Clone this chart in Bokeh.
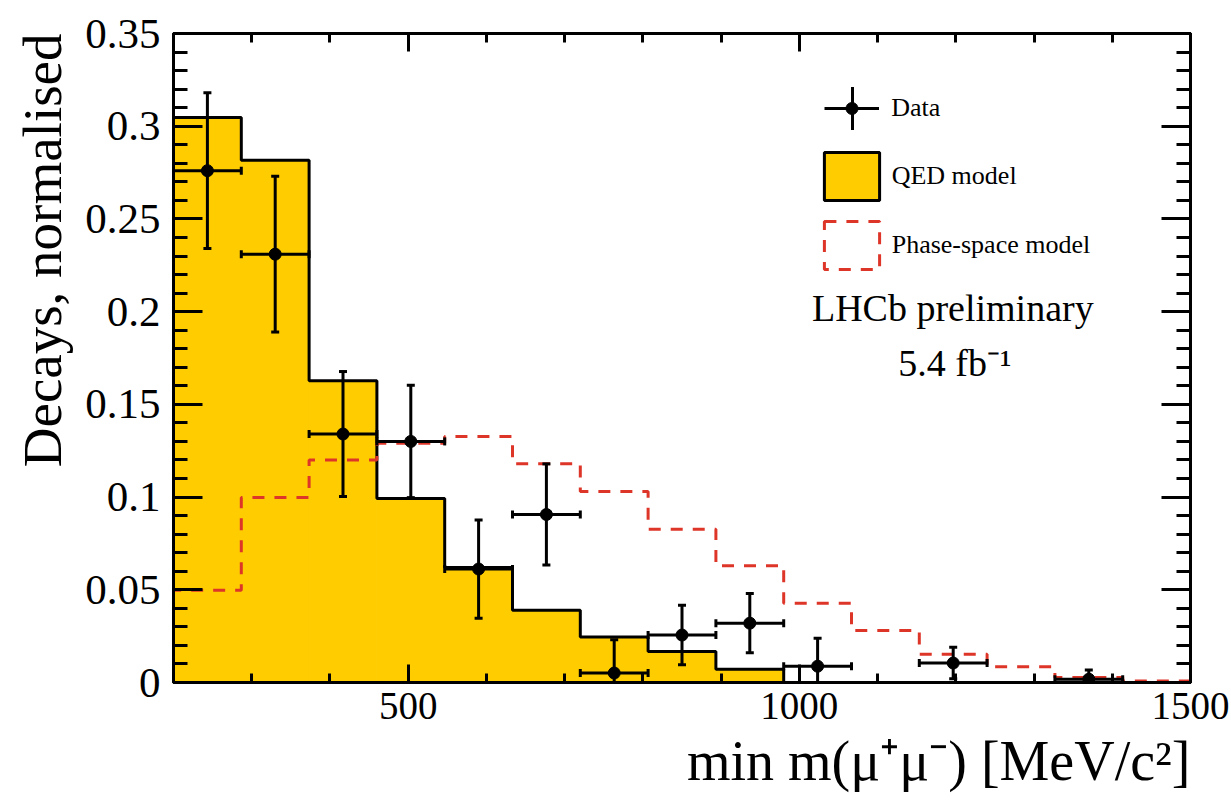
import numpy as np
from bokeh.plotting import figure
from bokeh.models import (Range1d, FixedTicker, LinearAxis, Whisker, TeeHead,
                          ColumnDataSource, Legend, LegendItem, Label, Title,
                          CustomJSTickFormatter)
from bokeh.embed import file_html
from bokeh.resources import INLINE

# ---------------- data ----------------
x_lo, x_hi, n_bins = 200.0, 1500.0, 15
bin_edges = np.linspace(x_lo, x_hi, n_bins + 1)

qed_model = [0.3047, 0.2817, 0.1627, 0.0992, 0.0620, 0.0390, 0.0245, 0.0167,
             0.0072, 0.0, 0.0, 0.0, 0.0, 0.0, 0.0]
phase_space_model = [0.0498, 0.0998, 0.1200, 0.1290, 0.1327, 0.1180, 0.1030,
                     0.0827, 0.0629, 0.0428, 0.0280, 0.0153, 0.0085, 0.0027,
                     0.0008]
data_bins = [0, 1, 2, 3, 4, 5, 6, 7, 8, 9, 11, 13]
data_values = [0.276, 0.231, 0.134, 0.130, 0.0612, 0.0906, 0.0051, 0.0256,
               0.032, 0.0088, 0.0105, 0.0018]
data_errors = [0.042, 0.042, 0.0337, 0.0303, 0.0265, 0.0273, 0.018, 0.016,
               0.016, 0.015, 0.0085, 0.005]

x_ticks = [500, 1000, 1500]
x_minor_ticks = list(range(200, 1501, 100))
y_ticks = [0, 0.05, 0.1, 0.15, 0.2, 0.25, 0.3, 0.35]
y_tick_labels = ["0", "0.05", "0.1", "0.15", "0.2", "0.25", "0.3", "0.35"]
y_minor_ticks = [round(i * 0.01, 2) for i in range(36)]

x_title = "min m(μ⁺μ⁻) [MeV/c²]"
y_title = "Decays, normalised"

FONT = "Liberation Serif"
YELLOW = "#FFCC00"
RED = "#DE3529"
NAN = float("nan")

# ---------------- figure ----------------
p = figure(width=1231, height=809, x_range=Range1d(x_lo, x_hi),
           y_range=Range1d(0, 0.35), output_backend="svg",
           toolbar_location=None, min_border_left=173, min_border_right=41,
           min_border_top=33, min_border_bottom=127)
p.xgrid.visible = False
p.ygrid.visible = False
p.outline_line_color = "black"
p.outline_line_width = 3
p.background_fill_color = "white"
p.border_fill_color = "white"

def style_axis(ax, vertical, labels=True, size="39px"):
    ax.axis_line_width = 3
    ax.axis_line_color = "black"
    ax.major_tick_line_width = 3
    ax.minor_tick_line_width = 3
    ax.major_tick_out = 0
    ax.minor_tick_out = 0
    if vertical:
        ax.major_tick_in = 29
        ax.minor_tick_in = 14
    else:
        ax.major_tick_in = 18
        ax.minor_tick_in = 9
    ax.major_label_text_font = FONT
    ax.major_label_text_font_size = size
    ax.major_label_text_color = "black"
    if not labels:
        ax.formatter = CustomJSTickFormatter(code="return ''")
        ax.major_label_standoff = 0

xt = FixedTicker(ticks=x_ticks, minor_ticks=x_minor_ticks)
yt = FixedTicker(ticks=y_ticks, minor_ticks=y_minor_ticks)
y_overrides = {t: s for t, s in zip(y_ticks, y_tick_labels)}

xa = p.xaxis[0]
xa.ticker = xt
style_axis(xa, False)
xa.major_label_standoff = 10

ya = p.yaxis[0]
ya.ticker = yt
ya.major_label_overrides = y_overrides
style_axis(ya, True, size="43px")
ya.major_label_standoff = 13

top_ax = LinearAxis(ticker=xt)
style_axis(top_ax, False, labels=False)
p.add_layout(top_ax, "above")
right_ax = LinearAxis(ticker=yt)
style_axis(right_ax, True, labels=False)
p.add_layout(right_ax, "right")

# axis titles, aligned to the axis ends as in the original
p.add_layout(Title(text=x_title, align="right", vertical_align="top",
                   text_font=FONT, text_font_size="56px",
                   text_font_style="normal", text_color="black",
                   standoff=16, offset=0), "below")
p.add_layout(Title(text=y_title, align="right", vertical_align="top",
                   text_font=FONT, text_font_size="55px",
                   text_font_style="normal", text_color="black",
                   standoff=16, offset=0), "left")

# ---------------- histograms ----------------
def step_outline(values):
    xs = [bin_edges[0]]
    ys = [0.0]
    for i, v in enumerate(values):
        xs += [bin_edges[i], bin_edges[i + 1]]
        ys += [v, v]
    xs.append(bin_edges[-1])
    ys.append(0.0)
    return xs, ys

p.quad(left=bin_edges[:-1], right=bin_edges[1:], bottom=0, top=qed_model,
       fill_color=YELLOW, line_color=YELLOW, line_width=1)
qx, qy = step_outline(qed_model)
p.line(qx, qy, line_color="black", line_width=3)
px_, py_ = step_outline(phase_space_model)
p.line(px_, py_, line_color=RED, line_width=3, line_dash="12 10")

# ---------------- data points ----------------
centers = 0.5 * (bin_edges[:-1] + bin_edges[1:])
half_w = 0.5 * (bin_edges[1] - bin_edges[0])
dx = np.array([centers[b] for b in data_bins])
dy = np.array(data_values)
de = np.array(data_errors)
src = ColumnDataSource(dict(x=dx, y=dy, yl=np.maximum(dy - de, 0.0), yu=dy + de,
                            xl=dx - half_w, xu=dx + half_w))
vw = Whisker(source=src, base="x", lower="yl", upper="yu", dimension="height",
             line_width=3, line_color="black", level="annotation",
             upper_head=TeeHead(size=8, line_width=3, line_color="black"),
             lower_head=TeeHead(size=8, line_width=3, line_color="black"))
hw = Whisker(source=src, base="y", lower="xl", upper="xu", dimension="width",
             line_width=3, line_color="black", level="annotation",
             upper_head=TeeHead(size=8, line_width=3, line_color="black"),
             lower_head=TeeHead(size=8, line_width=3, line_color="black"))
p.add_layout(vw)
p.add_layout(hw)
pts = p.scatter("x", "y", source=src, size=12, color="black")

# ---------------- legend (legend-only renderers hold no visible data) ----------------
leg_hline = p.segment(x0=[NAN], y0=[NAN], x1=[NAN], y1=[NAN],
                      line_color="black", line_width=3)
leg_cross = p.scatter(x=[NAN], y=[NAN], marker="cross", line_color="black",
                      line_width=3)
leg_qed = p.quad(left=[NAN], right=[NAN], top=[NAN], bottom=[NAN],
                 fill_color=YELLOW, line_color="black", line_width=3)
leg_ps = p.quad(left=[NAN], right=[NAN], top=[NAN], bottom=[NAN], fill_alpha=0,
                line_color=RED, line_width=3, line_dash="12 10")

def make_legend(items, gw, gh, loc, standoff=6, spacing=9):
    return Legend(items=items, location=loc, glyph_width=gw, glyph_height=gh,
                  label_height=gh, padding=0, margin=0, spacing=spacing,
                  label_standoff=standoff, border_line_color=None,
                  background_fill_alpha=0, label_text_font=FONT,
                  label_text_font_size="26px", label_text_color="black")

leg_b = make_legend([LegendItem(label="", renderers=[leg_cross])], 108, 108, (624.8, 520.4))
leg_a = make_legend([LegendItem(label="Data", renderers=[leg_hline, pts])], 55, 30,
                    (651.3, 559.4), standoff=12)
leg_c = make_legend([LegendItem(label="QED model", renderers=[leg_qed]),
                     LegendItem(label="Phase-space model", renderers=[leg_ps])],
                    69, 60, (643.7, 407.2))
p.add_layout(leg_b, "center")
p.add_layout(leg_a, "center")
p.add_layout(leg_c, "center")

p.add_layout(Label(x=779.3, y=375.0, x_units="screen", y_units="screen",
                   text="LHCb preliminary", text_font=FONT, text_font_size="38px",
                   text_align="center", text_baseline="alphabetic", text_color="black"))
p.add_layout(Label(x=781.3, y=320.0, x_units="screen", y_units="screen",
                   text="5.4 fb⁻¹", text_font=FONT, text_font_size="38px",
                   text_align="center", text_baseline="alphabetic", text_color="black"))

open("out.html", "w").write(file_html(p, INLINE))
